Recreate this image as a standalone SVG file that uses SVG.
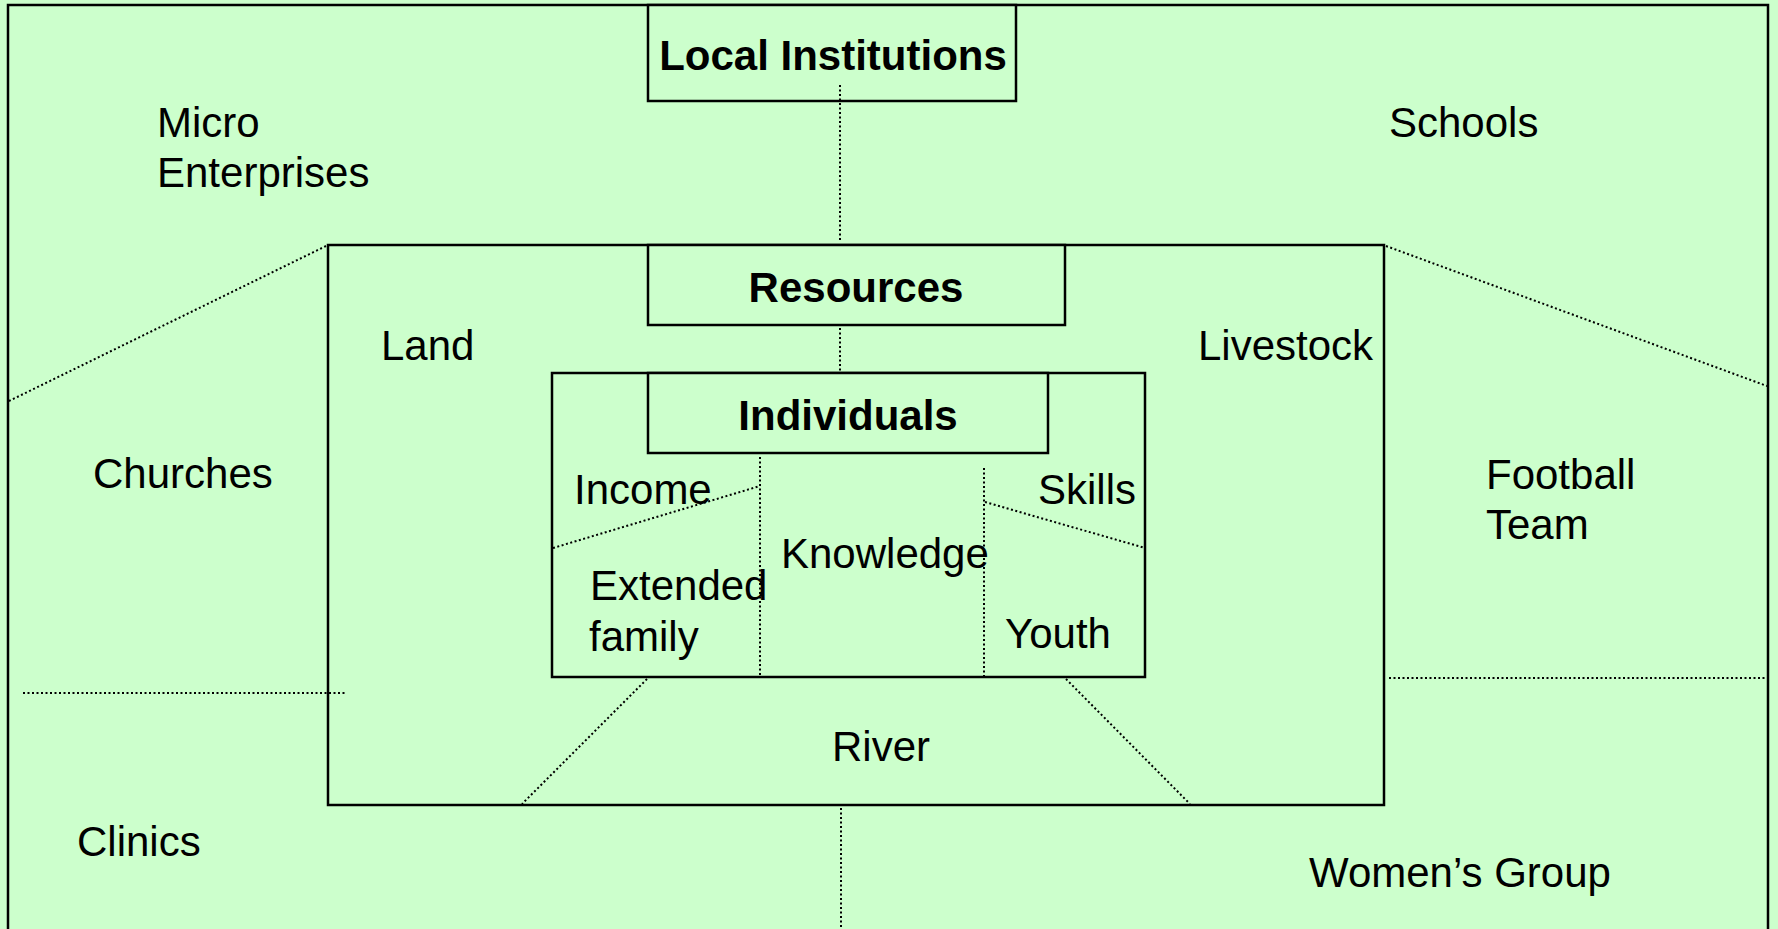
<svg xmlns="http://www.w3.org/2000/svg" width="1778" height="929" viewBox="0 0 1778 929">
<style>
.box{fill:#CCFFCC;stroke:#000;stroke-width:2.5}
.dot{fill:none;stroke:#000;stroke-width:2;stroke-dasharray:2 2.5}
.t{font-family:"Liberation Sans",Arial,sans-serif;font-size:42px;fill:#000}
.b{font-family:"Liberation Sans",Arial,sans-serif;font-size:42px;font-weight:bold;fill:#000;text-anchor:middle}
</style>
<rect x="0" y="0" width="1778" height="929" fill="#CCFFCC"/>
<g id="local-institutions-frame">
<rect class="box" x="8" y="5" width="1760" height="1000"/>
<text class="t" x="157" y="137">Micro</text>
<text class="t" x="157" y="187">Enterprises</text>
<text class="t" x="1389" y="137">Schools</text>
<text class="t" x="93" y="488">Churches</text>
<text class="t" x="1486" y="489">Football</text>
<text class="t" x="1486" y="539">Team</text>
<text class="t" x="77" y="856">Clinics</text>
<text class="t" x="1309" y="887">Women’s Group</text>
</g>
<g id="local-institutions">
<rect class="box" x="648" y="5" width="368" height="96"/>
<text class="b" x="833" y="70">Local Institutions</text>
</g>
<g id="resources-frame">
<rect class="box" x="328" y="245" width="1056" height="560"/>
<text class="t" x="381" y="360">Land</text>
<text class="t" x="1198" y="360">Livestock</text>
<text class="t" x="832" y="761">River</text>
</g>
<g id="resources">
<rect class="box" x="648" y="245" width="417" height="80"/>
<text class="b" x="856" y="302">Resources</text>
</g>
<g id="individuals-frame">
<rect class="box" x="552" y="373" width="593" height="304"/>
</g>
<g id="individuals">
<rect class="box" x="648" y="373" width="400" height="80"/>
<text class="b" x="848" y="430">Individuals</text>
</g>
<g id="connectors">
<line class="dot" x1="840" y1="85" x2="840" y2="242"/>
<line class="dot" x1="840" y1="328" x2="840" y2="371"/>
<line class="dot" x1="841" y1="808" x2="841" y2="929"/>
<line class="dot" x1="760" y1="457" x2="760" y2="676"/>
<line class="dot" x1="984" y1="468" x2="984" y2="676"/>
<line class="dot" x1="553" y1="548" x2="760" y2="486"/>
<line class="dot" x1="985" y1="502" x2="1145" y2="548"/>
<line class="dot" x1="23" y1="693" x2="346" y2="693"/>
<line class="dot" x1="1389" y1="678" x2="1767" y2="678"/>
<line class="dot" x1="647" y1="679" x2="522" y2="804"/>
<line class="dot" x1="1066" y1="679" x2="1190" y2="804"/>
<line class="dot" x1="326" y1="246" x2="9" y2="401"/>
<line class="dot" x1="1386" y1="246" x2="1767" y2="386"/>
</g>
<g id="labels">
<text class="t" x="574" y="504">Income</text>
<text class="t" x="781" y="568">Knowledge</text>
<text class="t" x="590" y="600">Extended</text>
<text class="t" x="589" y="651">family</text>
<text class="t" x="1038" y="504">Skills</text>
<text class="t" x="1005" y="648">Youth</text>
</g>
</svg>
